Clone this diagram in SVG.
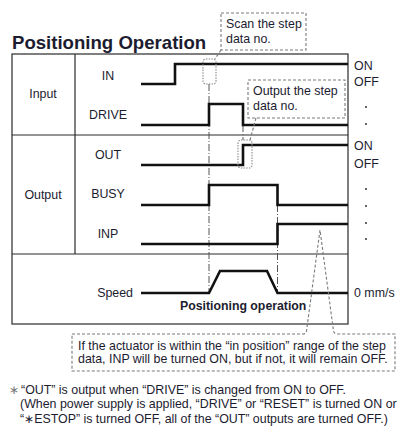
<svg xmlns="http://www.w3.org/2000/svg" width="400" height="428" viewBox="0 0 400 428">
<style>
text{font-family:"Liberation Sans",Arial,sans-serif;fill:#1c1c30;font-size:12.4px}
.b{font-weight:bold}
.m{text-anchor:middle}
.grid{stroke:#2a2a2a;stroke-width:1.2;fill:none}
.sig{stroke:#111;stroke-width:2.6;fill:none}
.guide{stroke:#555;stroke-width:1;stroke-dasharray:7 2 1 2;fill:none}
.call{stroke:#7a7a7a;stroke-width:1.1;stroke-dasharray:3 2;fill:none}
.mark{stroke:#8a8a8a;stroke-width:1.1;stroke-dasharray:1.5 1.2;fill:none}
.dot{fill:#333}
</style>
<rect width="400" height="428" fill="#fff"/>
<text id="title" x="12" y="49" class="b" style="font-size:18.6px">Positioning Operation</text>

<g id="table">
<rect x="12" y="54" width="336" height="270" class="grid"/>
<line x1="75" y1="54" x2="75" y2="254" class="grid"/>
<line x1="12" y1="135" x2="348" y2="135" class="grid"/>
<line x1="12" y1="254" x2="348" y2="254" class="grid"/>
</g>

<g id="labels">
<text x="43" y="98" class="m">Input</text>
<text x="43" y="199" class="m">Output</text>
<text x="108" y="79.7" class="m">IN</text>
<text x="108" y="118.5" class="m">DRIVE</text>
<text x="108" y="158.5" class="m">OUT</text>
<text x="108" y="198" class="m">BUSY</text>
<text x="108" y="237.5" class="m">INP</text>
<text x="133" y="297" style="text-anchor:end">Speed</text>
<text x="180" y="310" class="b" style="font-size:12.3px">Positioning operation</text>
</g>

<g id="guides">
<line x1="209" y1="84" x2="209" y2="293" class="guide"/>
<line x1="277.5" y1="205" x2="277.5" y2="293" class="guide"/>
<line x1="243" y1="125" x2="243" y2="140" class="guide"/>
</g>

<g id="signals">
<path d="M141,84 H175 V64 H348" class="sig"/>
<path d="M141,125 H209 V104 H243 V125 H348" class="sig"/>
<path d="M141,165 H243 V145 H348" class="sig"/>
<path d="M141,205 H209 V185 H277.5 V205 H348" class="sig"/>
<path d="M141,244 H277.5 V224 H348" class="sig"/>
<path d="M141,293 H209 L220,271 H267 L277.5,293 H348" class="sig"/>
</g>

<g id="levels">
<text x="354" y="69.5">ON</text>
<text x="354" y="86">OFF</text>
<circle cx="366" cy="107" r="1" class="dot"/>
<circle cx="366" cy="124" r="1" class="dot"/>
<text x="354" y="150">ON</text>
<text x="354" y="167.5">OFF</text>
<circle cx="366" cy="189" r="1" class="dot"/>
<circle cx="366" cy="206" r="1" class="dot"/>
<circle cx="366" cy="223" r="1" class="dot"/>
<circle cx="366" cy="239" r="1" class="dot"/>
<text x="354" y="297">0 mm/s</text>
</g>

<g id="callout-scan">
<rect x="221" y="13" width="85" height="37" class="call"/>
<path d="M221,50 L215,59" class="call"/>
<rect x="203" y="59" width="13" height="25" rx="3" class="mark"/>
<text x="226" y="28">Scan the step</text>
<text x="226" y="43">data no.</text>
</g>

<g id="callout-output">
<rect x="248" y="80" width="97" height="38" class="call"/>
<path d="M256,118 L250,140" class="call"/>
<rect x="238" y="140" width="14" height="28" rx="3" class="mark"/>
<text x="253" y="95">Output the step</text>
<text x="253" y="110">data no.</text>
</g>

<g id="callout-inp">
<path d="M72,334 H303 Q306,334 306.5,331 L320,230 L333.5,331 Q334,334 337,334 H395 V371 H72 Z" class="call"/>
<text x="78" y="349.5">If the actuator is within the “in position” range of the step</text>
<text x="78" y="363">data, INP will be turned ON, but if not, it will remain OFF.</text>
</g>

<g id="notes">
<text x="9" y="394" style="fill:#777">∗</text>
<text x="21" y="394">“OUT” is output when “DRIVE” is changed from ON to OFF.</text>
<text x="20" y="408">(When power supply is applied, “DRIVE” or “RESET” is turned ON or</text>
<text x="20" y="422.5">“∗ESTOP” is turned OFF, all of the “OUT” outputs are turned OFF.)</text>
</g>
</svg>
